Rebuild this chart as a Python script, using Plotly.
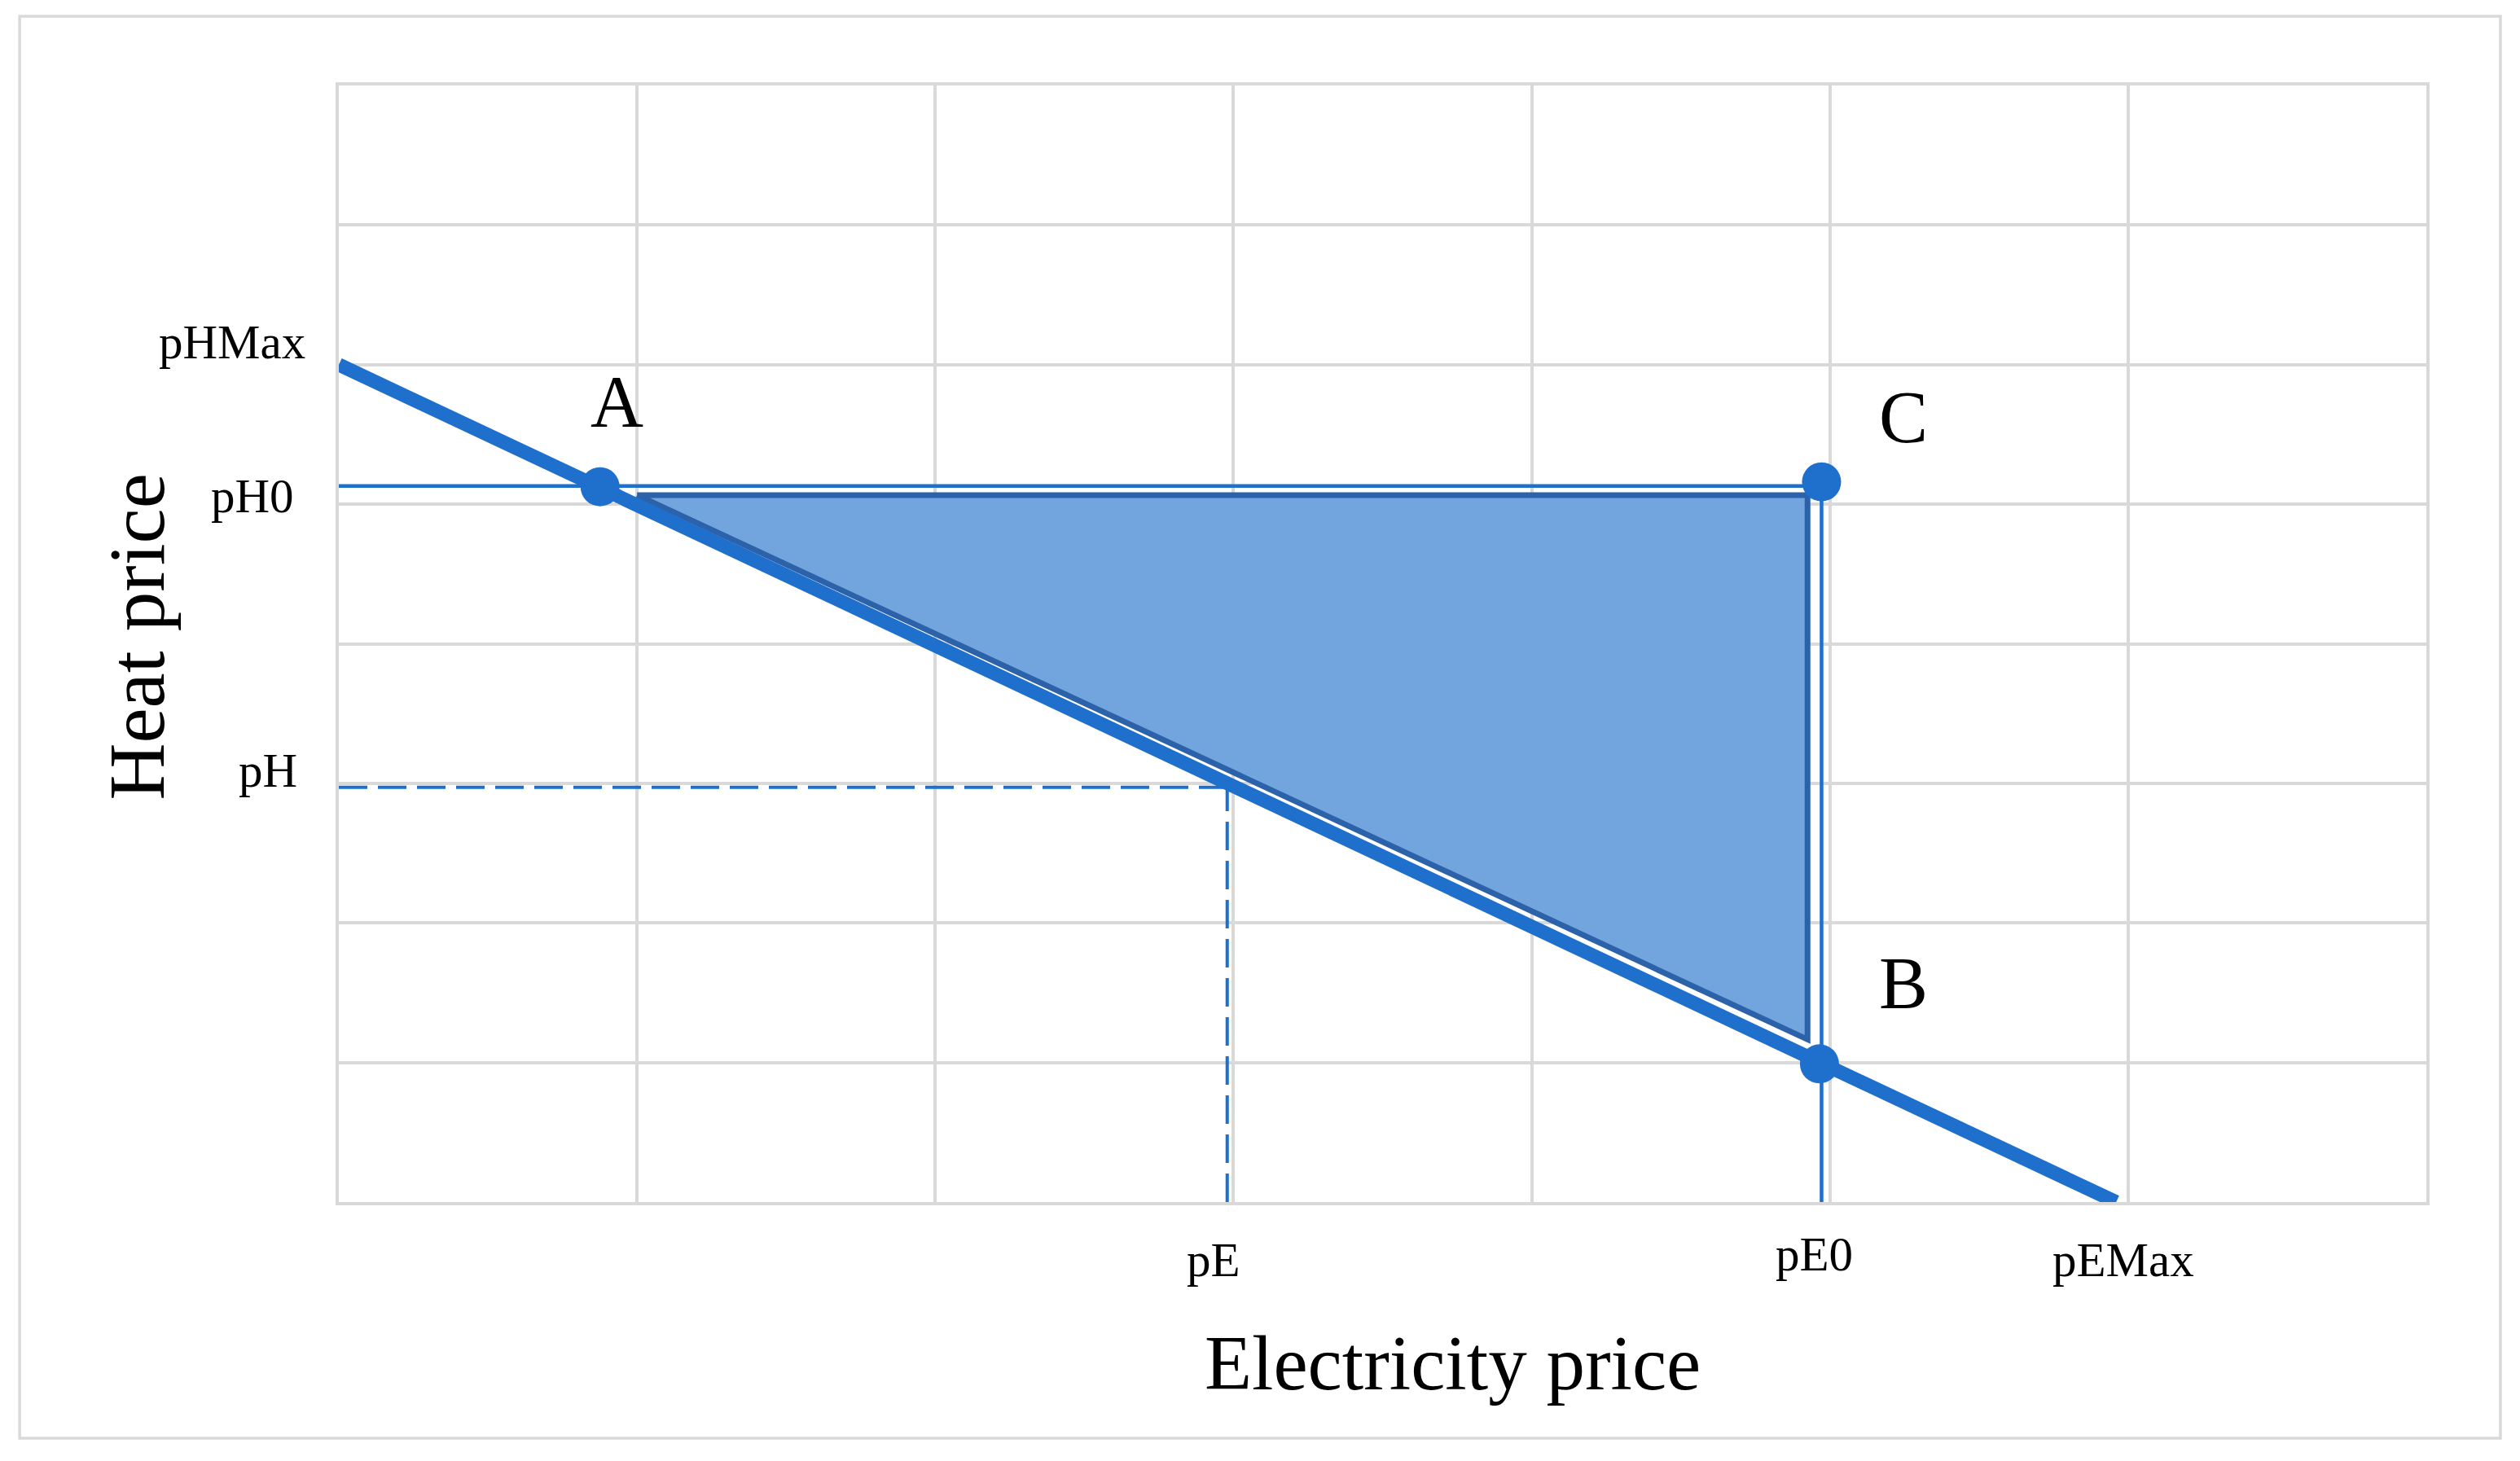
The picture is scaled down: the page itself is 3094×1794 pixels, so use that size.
import plotly.graph_objects as go

# ---------------- data ----------------
# Iso-cost line from pHMax (on the heat-price axis) to pEMax (on the electricity-price axis)
line_x = [0.0, 5.96]
line_y = [6.0, 0.0]

# Key points
point_names = ["A", "C", "B"]
point_x = [0.876, 4.972, 4.965]
point_y = [5.125, 5.16, 0.99]

# Shaded triangle (slightly inset from A-C-B)
shade_x = [1.0, 4.925, 4.925]
shade_y = [5.065, 5.065, 1.165]

# Reference levels
pH0 = 5.13
pE0 = 4.972
pE = 2.979
pH = 2.971
pHMax = 6.0
pEMax = 5.96

y_tick_vals = [pHMax, pH0, pH]
y_tick_text = ["pHMax", "pH0", "pH"]
x_tick_vals = [pE, pE0, pEMax]
x_tick_text = ["pE", "pE0", "pEMax"]

x_title = "Electricity price"
y_title = "Heat price"

# ---------------- style ----------------
BLUE = "#1f6fcc"
FILL = "#72a4de"
EDGE = "#2c62a9"
GRID = "#d9d9d9"
FONT = "Liberation Serif"

# pixel offsets for the hand-placed labels
y_lab_dx = [-39, -53, -49]
y_lab_dy = [28, -12, 21]
x_lab_dx = [-17, -9, 9]
x_lab_dy = [-71, -64, -71]
pt_lab_dx = [21, 101, 103]
pt_lab_dy = [104, 79, 99]

fig = go.Figure()

# shaded triangle
fig.add_trace(go.Scatter(
    x=shade_x + [shade_x[0]], y=shade_y + [shade_y[0]],
    mode="lines", fill="toself", fillcolor=FILL,
    line=dict(color=EDGE, width=7), hoverinfo="skip"))

# pH0 horizontal reference line (axis to C)
fig.add_trace(go.Scatter(x=[0, point_x[1]], y=[pH0, pH0], mode="lines",
                         line=dict(color=BLUE, width=4.5), hoverinfo="skip"))
# pE0 vertical reference line (C down to axis)
fig.add_trace(go.Scatter(x=[pE0, pE0], y=[0, point_y[1]], mode="lines",
                         line=dict(color=BLUE, width=4.5), hoverinfo="skip"))

# dashed pE / pH guides
fig.add_trace(go.Scatter(x=[0, pE], y=[pH, pH], mode="lines",
                         line=dict(color=BLUE, width=4, dash="35px,13px"), hoverinfo="skip"))
fig.add_trace(go.Scatter(x=[pE, pE], y=[0, pH], mode="lines",
                         line=dict(color=BLUE, width=4, dash="35px,13px"), hoverinfo="skip"))

# main line
fig.add_trace(go.Scatter(x=line_x, y=line_y, mode="lines",
                         line=dict(color=BLUE, width=17), hoverinfo="skip"))

# points
fig.add_trace(go.Scatter(x=point_x, y=point_y, mode="markers",
                         marker=dict(color=BLUE, size=48), hoverinfo="skip",
                         cliponaxis=False))

annotations = []
for name, px, py, dx, dy in zip(point_names, point_x, point_y, pt_lab_dx, pt_lab_dy):
    annotations.append(dict(x=px, y=py, xref="x", yref="y", text=name, showarrow=False,
                            xanchor="center", yanchor="middle", xshift=dx, yshift=dy,
                            font=dict(family=FONT, size=90, color="black")))
for v, t, dx, dy in zip(y_tick_vals, y_tick_text, y_lab_dx, y_lab_dy):
    annotations.append(dict(x=0, y=v, xref="paper", yref="y", text=t, showarrow=False,
                            xanchor="right", yanchor="middle", xshift=dx, yshift=dy,
                            font=dict(family=FONT, size=59, color="black")))
for v, t, dx, dy in zip(x_tick_vals, x_tick_text, x_lab_dx, x_lab_dy):
    annotations.append(dict(x=v, y=0, xref="x", yref="paper", text=t, showarrow=False,
                            xanchor="center", yanchor="middle", xshift=dx, yshift=dy,
                            font=dict(family=FONT, size=59, color="black")))
annotations.append(dict(x=0.5, y=0, xref="paper", yref="paper", text=x_title, showarrow=False,
                        xanchor="center", yanchor="middle", xshift=86, yshift=-198,
                        font=dict(family=FONT, size=95, color="black")))
annotations.append(dict(x=0, y=0.5, xref="paper", yref="paper", text=y_title, showarrow=False,
                        textangle=-90, xanchor="center", yanchor="middle", xshift=-248, yshift=8,
                        font=dict(family=FONT, size=97, color="black")))

axis_common = dict(showgrid=True, gridcolor=GRID, gridwidth=3.5, zeroline=False,
                   showline=True, mirror=True, linecolor=GRID, linewidth=3.5,
                   showticklabels=False, ticks="", tick0=0, dtick=1, fixedrange=True)

fig.update_layout(
    width=3094, height=1794,
    margin=dict(l=408, r=123, t=97, b=326),
    paper_bgcolor="white", plot_bgcolor="white",
    showlegend=False,
    xaxis=dict(range=[0, 7], **axis_common),
    yaxis=dict(range=[0, 8], **axis_common),
    annotations=annotations,
    shapes=[dict(type="rect", xref="paper", yref="paper",
                 x0=-0.1529, x1=1.0355, y0=-0.2115, y1=1.062,
                 line=dict(color=GRID, width=3.5), layer="below")],
)

fig.write_html("out.html")
